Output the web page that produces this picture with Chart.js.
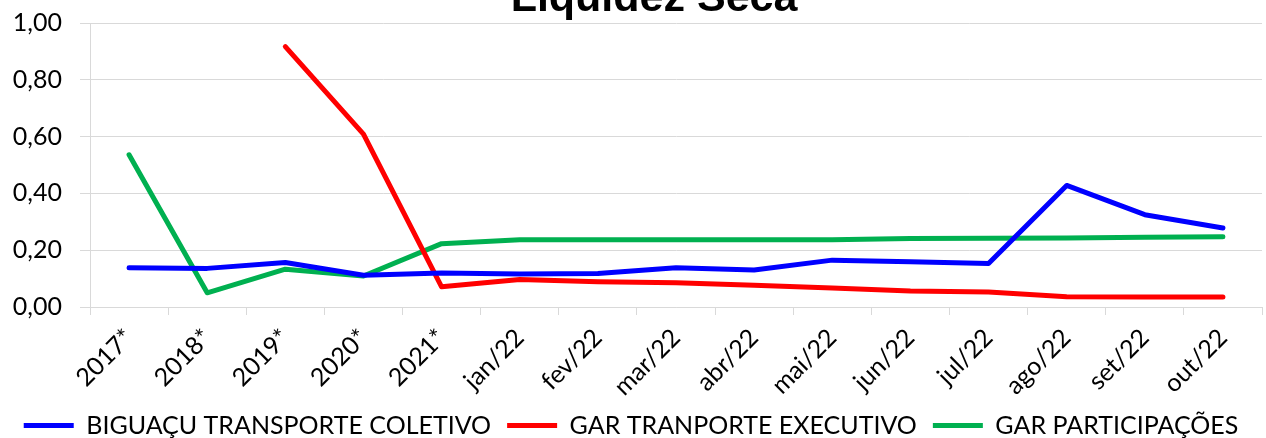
<!DOCTYPE html>
<html>
<head>
<meta charset="utf-8">
<script src="https://cdn.jsdelivr.net/npm/chart.js@4/dist/chart.umd.min.js"></script>
<style>
  html, body { margin: 0; padding: 0; background: #fff; overflow: hidden; }
  /* canvas is a little taller and pulled up: the title is cut by the top edge */
  #wrap { position: relative; width: 1266px; height: 458px; margin-top: -10px; }
</style>
</head>
<body>
<div id="wrap"><canvas id="chart"></canvas></div>
<script>
const chartTitle = "Liquidez Seca";
const periods = ["2017*", "2018*", "2019*", "2020*", "2021*", "jan/22", "fev/22", "mar/22", "abr/22", "mai/22", "jun/22", "jul/22", "ago/22", "set/22", "out/22"];
const biguacu = [0.138, 0.136, 0.157, 0.112, 0.120, 0.116, 0.118, 0.138, 0.130, 0.165, 0.159, 0.153, 0.428, 0.325, 0.278];
const garExecutivo = [null, null, 0.917, 0.609, 0.071, 0.097, 0.089, 0.085, 0.077, 0.067, 0.056, 0.053, 0.036, 0.035, 0.035];
const garParticipacoes = [0.536, 0.050, 0.133, 0.109, 0.223, 0.237, 0.237, 0.237, 0.237, 0.237, 0.241, 0.242, 0.243, 0.246, 0.247];
const yTicks = [0, 0.2, 0.4, 0.6, 0.8, 1.0];

const gridColor = "#d9d9d9";
const font = "Lato";

const titlePlugin = {
  id: "cutTitle",
  afterDraw(chart) {
    const ctx = chart.ctx;
    ctx.save();
    ctx.font = "bold 43px 'Liberation Sans'";
    ctx.fillStyle = "#000";
    ctx.textAlign = "center";
    ctx.textBaseline = "alphabetic";
    ctx.fillText(chartTitle, 654, 21);
    ctx.restore();
  }
};

function series(label, data, color) {
  return {
    label, data,
    borderColor: color,
    backgroundColor: color,
    borderWidth: 5,
    borderCapStyle: "round",
    borderJoinStyle: "round",
    pointRadius: 0,
    pointHoverRadius: 0,
    pointStyle: "line",
    tension: 0,
    spanGaps: false
  };
}

new Chart(document.getElementById("chart"), {
  type: "line",
  data: {
    labels: periods,
    datasets: [
      series("BIGUAÇU TRANSPORTE COLETIVO", biguacu, "#0000ff"),
      series("GAR TRANPORTE EXECUTIVO", garExecutivo, "#ff0000"),
      series("GAR PARTICIPAÇÕES", garParticipacoes, "#00b050")
    ]
  },
  options: {
    responsive: true,
    maintainAspectRatio: false,
    animation: false,
    layout: { padding: { top: 10, right: 4, left: 0, bottom: 0 } },
    plugins: {
      title: { display: false },
      tooltip: { enabled: false },
      legend: {
        position: "bottom",
        labels: {
          usePointStyle: true,
          pointStyle: "line",
          pointStyleWidth: 50,
          padding: 16,
          color: "#000",
          font: { family: font, size: 25 }
        }
      }
    },
    scales: {
      x: {
        offset: true,
        grid: {
          offset: true,
          drawOnChartArea: false,
          drawTicks: true,
          tickLength: 8,
          color: gridColor
        },
        border: { display: true, color: gridColor, width: 1 },
        ticks: {
          autoSkip: false,
          maxRotation: 45,
          minRotation: 45,
          padding: 8,
          color: "#000",
          font: { family: font, size: 25 }
        },
        afterFit(scale) { scale.height = 90; }
      },
      y: {
        min: 0,
        max: 1,
        afterBuildTicks(scale) { scale.ticks = yTicks.map(v => ({ value: v })); },
        grid: { color: gridColor, tickLength: 10, drawTicks: true },
        border: { display: true, color: gridColor, width: 1 },
        ticks: {
          padding: 18,
          color: "#000",
          font: { family: font, size: 25 },
          callback: v => v.toFixed(2).replace(".", ",")
        },
        afterFit(scale) { scale.width = 90; }
      }
    }
  },
  plugins: [titlePlugin]
});
</script>
</body>
</html>
